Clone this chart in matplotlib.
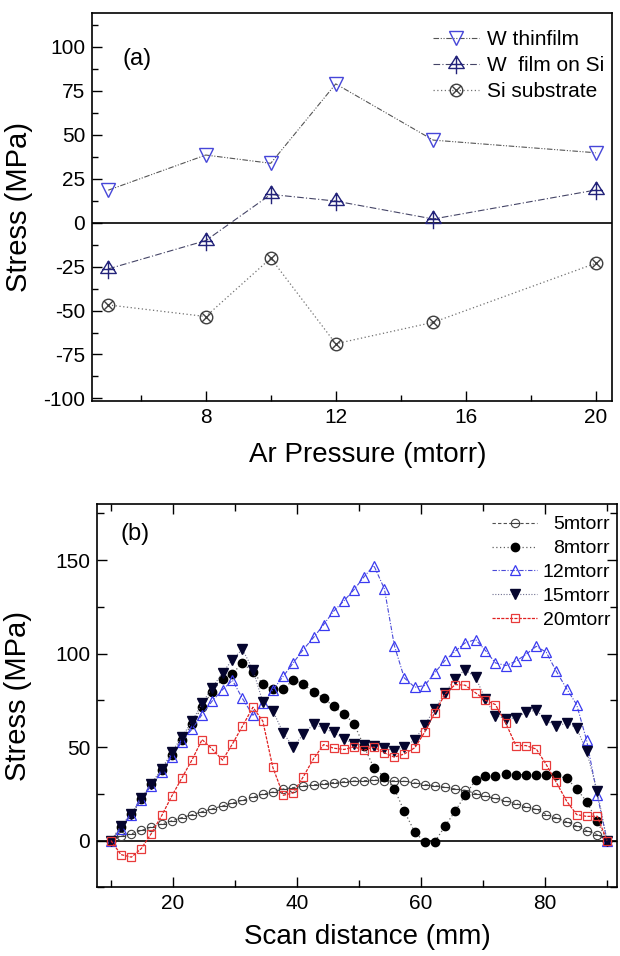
import numpy as np
import matplotlib
matplotlib.use("Agg")
from matplotlib import pyplot as plt
from matplotlib.path import Path
from matplotlib.ticker import MultipleLocator

plt.rcParams['font.family'] = ['Liberation Sans', 'DejaVu Sans']
plt.rcParams['axes.unicode_minus'] = False

# ---- panel (a) data ----
pressure = [5, 8, 10, 12, 15, 20]
w_thinfilm = [18.5, 38.5, 33.8, 79.0, 47.0, 39.8]
w_film_si = [-26.3, -10.2, 16.1, 12.3, 2.1, 18.6]
si_substrate = [-46.8, -53.4, -20.2, -68.9, -56.7, -23.1]

# ---- panel (b) data ----
scan = [10.0, 11.6, 13.3, 14.9, 16.5, 18.2, 19.8, 21.4, 23.1, 24.7,
        26.3, 28.0, 29.6, 31.2, 32.9, 34.5, 36.1, 37.8, 39.4, 41.0,
        42.7, 44.3, 45.9, 47.6, 49.2, 50.8, 52.4, 54.1, 55.7, 57.3,
        59.0, 60.6, 62.2, 63.9, 65.5, 67.1, 68.8, 70.4, 72.0, 73.7,
        75.3, 76.9, 78.6, 80.2, 81.8, 83.5, 85.1, 86.7, 88.4, 90.0]
s5 = [0, 2.2, 3.6, 5.4, 7.2, 8.8, 10.5, 12.2, 13.8, 15.4,
      16.9, 18.5, 20.0, 21.5, 23.2, 24.8, 25.9, 27.6, 28.3, 29.1,
      29.8, 30.3, 31.0, 31.4, 31.8, 32.0, 32.3, 32.1, 31.9, 31.7,
      30.8, 29.9, 29.4, 28.5, 27.6, 26.9, 25.1, 23.7, 22.5, 21.0,
      19.8, 18.0, 16.6, 13.9, 12.1, 10.0, 7.7, 5.3, 3.2, 0]
s8 = [0, 7.0, 14.0, 22.0, 30.0, 37.5, 46.0, 54.0, 62.5, 71.5,
      79.5, 86.5, 89.2, 95.1, 90.0, 83.8, 80.8, 80.9, 86.0, 83.5,
      79.6, 76.2, 71.7, 67.7, 62.5, 50.5, 38.9, 34.0, 27.6, 15.7,
      4.5, -0.8, -0.8, 7.8, 15.7, 24.1, 32.3, 34.6, 34.5, 35.8,
      35.3, 35.2, 34.9, 34.8, 34.8, 33.2, 27.7, 20.8, 10.3, 0]
s12 = [0, 6.2, 13.9, 21.9, 29.4, 36.7, 44.7, 52.6, 59.7, 67.4,
       74.5, 80.7, 85.7, 76.0, 67.0, 73.4, 80.5, 87.9, 95.0, 102.1,
       108.7, 115.5, 122.6, 128.3, 134.2, 141.0, 147.1, 134.6, 104.3, 87.0,
       82.0, 82.9, 89.7, 96.4, 101.2, 105.7, 107.5, 101.6, 95.0, 93.6,
       95.9, 99.5, 103.9, 100.7, 90.6, 81.1, 72.7, 53.7, 24.6, 0]
s15 = [0, 7.7, 14.4, 22.5, 30.5, 38.3, 47.2, 55.3, 63.8, 73.3,
       81.6, 89.7, 96.8, 102.3, 91.4, 74.0, 69.5, 57.4, 50.0, 56.8,
       62.3, 60.0, 57.8, 54.3, 51.8, 51.0, 50.6, 49.6, 48.0, 49.8,
       53.9, 61.8, 70.3, 79.0, 86.5, 91.4, 87.3, 75.5, 66.8, 65.1,
       65.6, 68.6, 69.7, 64.3, 61.1, 62.9, 60.2, 47.8, 26.7, 0]
s20 = [0, -7.5, -8.9, -4.3, 3.7, 13.4, 23.7, 33.2, 43.3, 54.0,
       49.0, 43.0, 51.7, 61.1, 71.3, 63.8, 39.2, 24.2, 25.5, 34.0,
       43.9, 51.3, 49.4, 48.7, 50.1, 48.3, 50.0, 46.9, 44.6, 46.3,
       49.6, 58.0, 68.3, 78.4, 83.4, 83.1, 79.0, 75.0, 72.7, 62.6,
       50.8, 50.8, 48.9, 40.6, 31.2, 21.0, 13.9, 12.9, 13.0, 0]

# custom Origin-like markers
M, L = Path.MOVETO, Path.LINETO
circle = Path.unit_circle()
circ_x = Path.make_compound_path(
    circle, Path([(-0.707, -0.707), (0.707, 0.707), (-0.707, 0.707), (0.707, -0.707)], [M, L, M, L]))
theta = Path.make_compound_path(circle, Path([(-1, 0), (1, 0)], [M, L]))
tri_plus = Path([(0, 0.86), (-0.8, -0.41), (0.8, -0.41), (0, 0.86),
                 (0, 0.86), (0, -1.0), (-0.62, 0.0), (0.62, 0.0)],
                [M, L, L, Path.CLOSEPOLY, M, L, M, L])

fig = plt.figure(figsize=(6.2, 9.56), dpi=100)

# ---------------- (a) ----------------
ax = fig.add_axes([0.1484, 0.5805, 0.8387, 0.4062])
ax.axhline(0, color='black', lw=1.2, zorder=1)
ax.plot(pressure, w_thinfilm, ls=(0, (5, 1.5, 1, 1.5, 1, 1.5)), lw=0.8, color='#555555',
        marker='v', ms=10.3, mfc='none', mec='#4646d8', mew=1.0, label='W thinfilm')
ax.plot(pressure, w_film_si, ls=(0, (6, 2, 1, 2)), lw=0.8, color='#444466',
        marker=tri_plus, ms=14, mfc='none', mec='#23237a', mew=1.0, label='W  film on Si')
ax.plot(pressure, si_substrate, ls=(0, (1, 2)), lw=0.9, color='#707070',
        marker=circ_x, ms=9, mfc='none', mec='#404040', mew=1.0, label='Si substrate')
ax.set_xlim(4.5, 20.5)
ax.set_ylim(-101.5, 119.5)
ax.xaxis.set_major_locator(MultipleLocator(4))
ax.xaxis.set_minor_locator(MultipleLocator(2))
ax.yaxis.set_minor_locator(MultipleLocator(12.5))
ax.set_yticks([-100, -75, -50, -25, 0, 25, 50, 75, 100])
ax.tick_params(which='both', direction='in', top=False, right=False, labelsize=15, width=1)
ax.tick_params(which='major', length=7, pad=5)
ax.tick_params(which='minor', length=4)
for s in ax.spines.values():
    s.set_linewidth(1.2)
ax.set_xlabel('Ar Pressure (mtorr)', fontsize=20)
ax.set_ylabel('Stress (MPa)', fontsize=21)
ax.xaxis.set_label_coords(0.53, -0.105)
ax.yaxis.set_label_coords(-0.113, 0.5)
ax.text(0.058, 0.88, '(a)', transform=ax.transAxes, fontsize=17, va='center')
ax.legend(loc='upper right', bbox_to_anchor=(0.985, 0.955), frameon=False, fontsize=15,
          handlelength=2.2, handletextpad=0.4, labelspacing=0.34, borderpad=0, borderaxespad=0)

# ---------------- (b) ----------------
bx = fig.add_axes([0.1569, 0.0719, 0.8382, 0.4009])
bx.axhline(0, color='black', lw=1.2, zorder=1)
bx.plot(scan, s5, ls=(0, (3, 2)), lw=0.8, color='#505050',
        marker=theta, ms=6, mfc='none', mec='#404040', mew=0.8, label='5mtorr')
bx.plot(scan, s8, ls=(0, (1, 2)), lw=0.9, color='#606060',
        marker='o', ms=6, mfc='black', mec='black', label='8mtorr')
bx.plot(scan, s12, ls=(0, (4, 1.5, 1, 1.5)), lw=0.8, color='#4a4ad8',
        marker='^', ms=7.3, mfc='none', mec='#3a3af0', mew=0.9, label='12mtorr')
bx.plot(scan, s15, ls=(0, (1, 1.5)), lw=0.8, color='#707090',
        marker='v', ms=7.3, mfc='#05052e', mec='#05052e', label='15mtorr')
bx.plot(scan, s20, ls=(0, (2.5, 1)), lw=0.9, color='#e02020',
        marker='s', ms=6, mfc='none', mec='#e83a3a', mew=0.9, label='20mtorr')
bx.set_xlim(7.8, 91.6)
bx.set_ylim(-25, 180)
bx.xaxis.set_major_locator(MultipleLocator(20))
bx.xaxis.set_minor_locator(MultipleLocator(10))
bx.yaxis.set_major_locator(MultipleLocator(50))
bx.yaxis.set_minor_locator(MultipleLocator(25))
bx.tick_params(which='both', direction='in', top=True, right=True, labelsize=15, width=1)
bx.tick_params(which='major', length=7, pad=5)
bx.tick_params(which='minor', length=5)
for s in bx.spines.values():
    s.set_linewidth(1.2)
bx.set_xlabel('Scan distance (mm)', fontsize=20)
bx.set_ylabel('Stress (MPa)', fontsize=21)
bx.xaxis.set_label_coords(0.52, -0.095)
bx.yaxis.set_label_coords(-0.126, 0.5)
bx.text(0.045, 0.922, '(b)', transform=bx.transAxes, fontsize=17, va='center')
leg = bx.legend(loc='upper right', bbox_to_anchor=(0.987, 0.969), frameon=False, fontsize=14,
                handlelength=2.3, handletextpad=0.3, labelspacing=0.32, borderpad=0, borderaxespad=0)

# right-align the legend labels in (b): shift shorter labels inside their slot
fig.canvas.draw()
renderer = fig.canvas.get_renderer()
widths = [t.get_window_extent(renderer).width for t in leg.get_texts()]
widest = max(widths)
for t, w in zip(leg.get_texts(), widths):
    t.set_position((widest - w, 0))

fig.savefig('out.png', dpi=100)
